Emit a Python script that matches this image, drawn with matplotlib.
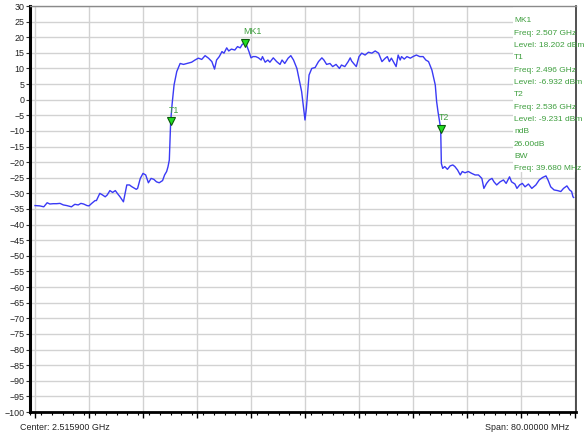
import matplotlib
matplotlib.use("Agg")
import matplotlib.pyplot as plt
from matplotlib.patches import Rectangle
from matplotlib.ticker import MultipleLocator

# ---- data ----
freq_ghz = [
    2.4759, 2.4766, 2.4772, 2.4777, 2.4781, 2.4786, 2.4791, 2.4796, 2.4801, 2.4806,
    2.4813, 2.4818, 2.4823, 2.4827, 2.4831, 2.4836, 2.4839, 2.4843, 2.4848, 2.4850,
    2.4855, 2.4859, 2.4863, 2.4866, 2.4870, 2.4874, 2.4878, 2.4881, 2.4885, 2.4890,
    2.4895, 2.4899, 2.4902, 2.4909, 2.4911, 2.4915, 2.4919, 2.4923, 2.4927, 2.4931,
    2.4935, 2.4939, 2.4943, 2.4948, 2.4951, 2.4954, 2.4956, 2.4958, 2.4960, 2.4962,
    2.4965, 2.4969, 2.4974, 2.4979, 2.4984, 2.4991, 2.4996, 2.5001, 2.5006, 2.5011,
    2.5016, 2.5021, 2.5025, 2.5028, 2.5032, 2.5036, 2.5039, 2.5043, 2.5046, 2.5050,
    2.5055, 2.5059, 2.5063, 2.5066, 2.5070, 2.5072, 2.5076, 2.5079, 2.5082, 2.5086,
    2.5090, 2.5094, 2.5096, 2.5100, 2.5104, 2.5107, 2.5112, 2.5117, 2.5122, 2.5125,
    2.5129, 2.5134, 2.5138, 2.5142, 2.5147, 2.5150, 2.5154, 2.5157, 2.5159, 2.5161,
    2.5163, 2.5165, 2.5169, 2.5174, 2.5179, 2.5184, 2.5187, 2.5191, 2.5196, 2.5200,
    2.5205, 2.5210, 2.5213, 2.5218, 2.5223, 2.5226, 2.5228, 2.5231, 2.5235, 2.5239,
    2.5243, 2.5248, 2.5253, 2.5258, 2.5263, 2.5268, 2.5273, 2.5278, 2.5281, 2.5284,
    2.5287, 2.5294, 2.5297, 2.5300, 2.5302, 2.5306, 2.5310, 2.5315, 2.5319, 2.5324,
    2.5329, 2.5334, 2.5338, 2.5342, 2.5347, 2.5352, 2.5354, 2.5356, 2.5360, 2.5361,
    2.5363, 2.5366, 2.5370, 2.5374, 2.5378, 2.5381, 2.5385, 2.5389, 2.5392, 2.5396,
    2.5401, 2.5406, 2.5411, 2.5416, 2.5421, 2.5424, 2.5428, 2.5432, 2.5436, 2.5439,
    2.5443, 2.5448, 2.5453, 2.5457, 2.5462, 2.5465, 2.5470, 2.5473, 2.5477, 2.5481,
    2.5485, 2.5490, 2.5495, 2.5501, 2.5506, 2.5511, 2.5516, 2.5519, 2.5523, 2.5528,
    2.5533, 2.5538, 2.5542, 2.5547, 2.5551, 2.5554, 2.5556, 2.5557,
]
level_dbm = [
    -33.9, -34.0, -34.3, -33.0, -33.4, -33.3, -33.3, -33.2, -33.7, -33.9,
    -34.3, -33.5, -33.7, -33.2, -33.4, -33.9, -34.0, -33.2, -32.3, -32.3,
    -30.0, -30.5, -31.1, -30.5, -29.1, -29.7, -29.1, -30.0, -31.1, -32.7,
    -27.3, -27.3, -27.8, -28.7, -28.4, -25.2, -23.6, -24.1, -26.6, -25.2,
    -25.5, -26.3, -26.6, -25.9, -24.1, -23.0, -21.5, -19.3, -6.932, -1.7,
    4.7, 9.0, 11.6, 11.3, 11.6, 12.0, 12.7, 13.3, 12.9, 14.1,
    13.3, 12.2, 9.8, 12.7, 13.8, 15.4, 14.9, 16.6, 15.6, 16.2,
    15.9, 17.0, 16.6, 17.7, 18.202, 17.7, 15.4, 13.4, 13.8, 13.8,
    13.4, 12.7, 13.8, 12.0, 12.7, 12.0, 13.4, 12.2, 11.3, 12.7,
    11.6, 13.3, 14.1, 12.7, 10.0, 6.8, 2.6, -2.8, -6.5, -2.8,
    2.6, 7.9, 10.0, 10.3, 12.2, 13.4, 12.7, 11.3, 11.6, 10.6,
    11.3, 10.0, 11.1, 10.6, 12.2, 13.4, 12.4, 11.6, 10.6, 13.8,
    14.9, 14.3, 15.2, 14.9, 15.6, 14.9, 12.2, 13.3, 13.8, 12.2,
    13.3, 10.6, 14.3, 12.7, 13.8, 13.0, 13.8, 13.3, 13.8, 14.3,
    13.8, 13.8, 12.7, 12.2, 9.5, 4.7, -0.6, -3.8, -9.231, -20.4,
    -22.0, -21.4, -22.3, -21.2, -20.9, -21.4, -22.5, -24.1, -23.0, -23.4,
    -23.0, -23.6, -24.1, -24.1, -25.2, -28.4, -26.8, -25.7, -25.2, -26.3,
    -27.3, -26.3, -25.7, -26.8, -24.7, -26.3, -27.0, -28.4, -27.3, -26.8,
    -27.9, -27.0, -28.4, -27.3, -25.7, -24.9, -24.4, -25.7, -27.9, -28.9,
    -29.1, -29.4, -28.4, -27.6, -28.9, -29.4, -31.1, -31.3,
]

marker_names = ["T1", "MK1", "T2"]
marker_freq = [2.496, 2.507, 2.536]
marker_level = [-6.932, 18.202, -9.231]

info_lines = [
    "MK1", "Freq: 2.507 GHz", "Level: 18.202 dBm",
    "T1", "Freq: 2.496 GHz", "Level: -6.932 dBm",
    "T2", "Freq: 2.536 GHz", "Level: -9.231 dBm",
    "ndB", "26.00dB", "BW", "Freq: 39.680 MHz",
]

center_ghz = 2.5159
span_mhz = 80.0
y_ticks = list(range(-100, 31, 5))

# ---- figure ----
W, H = 588, 437
fig = plt.figure(figsize=(W / 100, H / 100), dpi=100)
L, R, T, B = 30, 576, 6, 412
ax = fig.add_axes([L / W, 1 - B / H, (R - L) / W, (B - T) / H])

f_start = center_ghz - span_mhz / 2000
f_stop = center_ghz + span_mhz / 2000
px = (f_stop - f_start) / 540.0
ax.set_xlim(f_start - 5 * px, f_start + 541 * px)
ax.set_ylim(-100, 30)

font = "Liberation Sans"
fs = 6.4
fs_info = 6.0

# grid
div = span_mhz / 10 / 1000
ax.set_xticks([f_start + k * div for k in range(11)])
ax.xaxis.set_minor_locator(MultipleLocator(div / 5))
ax.set_yticks(y_ticks)
ax.grid(True, which="major", color="#d2d2d2", lw=1.0)
ax.set_axisbelow(True)

ax.tick_params(axis="x", which="major", direction="out", length=4, width=1,
               color="black", labelbottom=False)
ax.tick_params(axis="x", which="minor", direction="out", length=2.5, width=0.8,
               color="black")
ax.tick_params(axis="y", direction="out", length=3, width=0.8, color="#333333",
               pad=1, labelsize=fs, labelcolor="#222222")
for lab in ax.get_yticklabels():
    lab.set_family(font)

ax.spines["left"].set_linewidth(2.2)
ax.spines["left"].set_color("black")
ax.spines["bottom"].set_linewidth(2.0)
ax.spines["bottom"].set_color("black")
ax.spines["top"].set_linewidth(1.0)
ax.spines["top"].set_color("#8a8a8a")
ax.spines["right"].set_linewidth(1.2)
ax.spines["right"].set_color("#333333")

# trace
ax.plot(freq_ghz, level_dbm, color="#3a3af5", lw=1.0, zorder=3)

# markers
green_txt = "#3d9e3d"
for name, fq, lv in zip(marker_names, marker_freq, marker_level):
    ax.plot([fq], [lv], marker="v", ms=6, mfc="#22dd22", mec="#0a5a0a",
            mew=0.8, zorder=5, ls="none")
    ax.annotate(name, (fq, lv), xytext=(-1.5, 8), textcoords="offset points",
                ha="left", va="center", color=green_txt, fontsize=fs,
                family=font, zorder=6)

# info box
bx0 = (513 - L) / (R - L)
by0 = (B - 172) / (B - T)
ax.add_patch(Rectangle((bx0, by0), 1 - bx0, 1 - by0, transform=ax.transAxes,
                       facecolor="white", edgecolor="none", zorder=2))
for i, line in enumerate(info_lines):
    yp = 21 + i * 12.3
    t = ax.text((514 - L) / (R - L), (B - yp) / (B - T), line, transform=ax.transAxes,
                ha="left", va="center", color=green_txt, fontsize=fs_info,
                family=font, zorder=6)
    t.set_clip_on(False)

fig.text(20 / W, 1 - 427 / H, "Center: %.6f GHz" % center_ghz, ha="left",
         va="center", fontsize=fs, family=font, color="#222222")
fig.text(569 / W, 1 - 427 / H, "Span: %.5f MHz" % span_mhz, ha="right",
         va="center", fontsize=fs, family=font, color="#222222")

fig.savefig("out.png", dpi=100)
